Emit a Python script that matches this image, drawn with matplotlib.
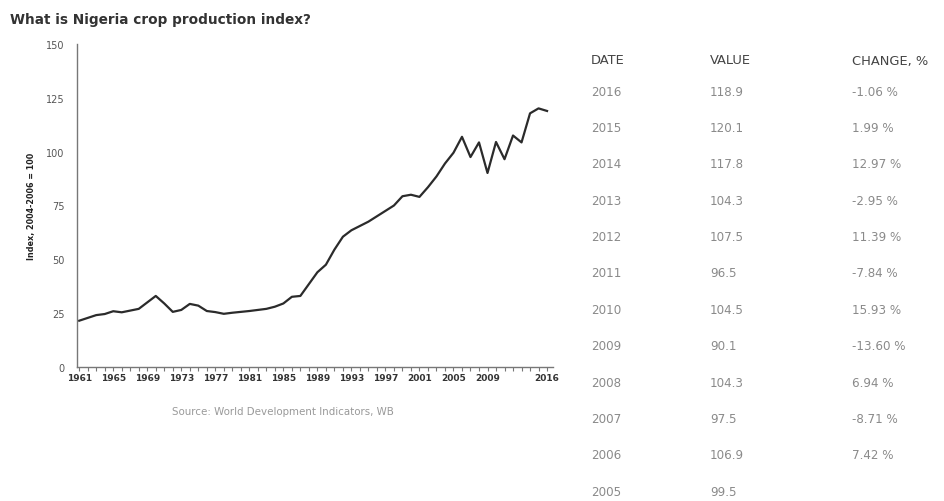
import matplotlib
matplotlib.use("Agg")
import matplotlib.pyplot as plt

# Crop production index, 2004-2006 = 100
years = list(range(1961, 2017))
index_values = [
    21.5, 22.8, 24.1, 24.6, 25.9, 25.4, 26.2, 27.0, 30.0, 33.0,
    29.5, 25.6, 26.5, 29.3, 28.5, 26.0, 25.5, 24.7, 25.2, 25.6,
    26.0, 26.5, 27.0, 28.0, 29.5, 32.6, 33.0, 38.5, 44.0, 47.5,
    54.5, 60.5, 63.5, 65.5, 67.5, 70.0, 72.5, 75.0, 79.3, 80.0,
    79.0, 83.5, 88.5, 94.5, 99.5, 106.9, 97.5, 104.3, 90.1, 104.5,
    96.5, 107.5, 104.3, 117.8, 120.1, 118.9,
]

x_tick_years = [1961, 1965, 1969, 1973, 1977, 1981, 1985, 1989, 1993,
                1997, 2001, 2005, 2009, 2016]
y_ticks = [0, 25, 50, 75, 100, 125, 150]

# Table on the right
table_dates = ["2016", "2015", "2014", "2013", "2012", "2011",
               "2010", "2009", "2008", "2007", "2006", "2005"]
table_values = ["118.9", "120.1", "117.8", "104.3", "107.5", "96.5",
                "104.5", "90.1", "104.3", "97.5", "106.9", "99.5"]
table_changes = ["-1.06 %", "1.99 %", "12.97 %", "-2.95 %", "11.39 %",
                 "-7.84 %", "15.93 %", "-13.60 %", "6.94 %", "-8.71 %",
                 "7.42 %", ""]
table_headers = ["DATE", "VALUE", "CHANGE, %"]

W, H = 945, 502
fig = plt.figure(figsize=(W / 100, H / 100), dpi=100)
fig.patch.set_facecolor("white")

ax = fig.add_axes([77 / W, 1 - 368 / H, (553 - 77) / W, (368 - 45) / H])
ax.plot(years, index_values, color="#2b2b2b", linewidth=1.6,
        solid_joinstyle="round")

ax.set_xlim(1960.74, 2016.7)
ax.set_ylim(0, 150)
for s in ["top", "right"]:
    ax.spines[s].set_visible(False)
for s in ["left", "bottom"]:
    ax.spines[s].set_color("#777777")
    ax.spines[s].set_linewidth(1.0)

ax.set_yticks(y_ticks)
ax.set_yticklabels([str(v) for v in y_ticks], fontsize=7, color="#555555")
ax.tick_params(axis="y", length=0, pad=9)

ax.set_xticks(x_tick_years)
ax.set_xticklabels([str(v) for v in x_tick_years], fontsize=6.5,
                   color="#333333", fontweight="bold")
ax.set_xticks(years, minor=True)
ax.tick_params(axis="x", which="both", length=3, width=0.8,
               color="#777777", direction="out", pad=1)

ax.set_ylabel("Index, 2004-2006 = 100", fontsize=5.8, fontweight="bold",
              color="#222222", labelpad=7)

fig.text(10 / W, 1 - 20 / H, "What is Nigeria crop production index?",
         fontsize=9.8, fontweight="bold", color="#333333",
         ha="left", va="center")

fig.text(283 / W, 1 - 412 / H, "Source: World Development Indicators, WB",
         fontsize=7.4, color="#999999", ha="center", va="center")

# Table
col_x = [591, 710, 852]
header_y = 61
row_y0 = 92
row_step = 36.4
for cx, head in zip(col_x, table_headers):
    fig.text(cx / W, 1 - header_y / H, head, fontsize=9.4,
             color="#444444", ha="left", va="center")
for i, (d, v, c) in enumerate(zip(table_dates, table_values, table_changes)):
    yy = 1 - (row_y0 + i * row_step) / H
    for cx, txt in zip(col_x, (d, v, c)):
        fig.text(cx / W, yy, txt, fontsize=8.6, color="#8a8a8a",
                 ha="left", va="center")

fig.savefig("out.png", dpi=100, facecolor="white")
